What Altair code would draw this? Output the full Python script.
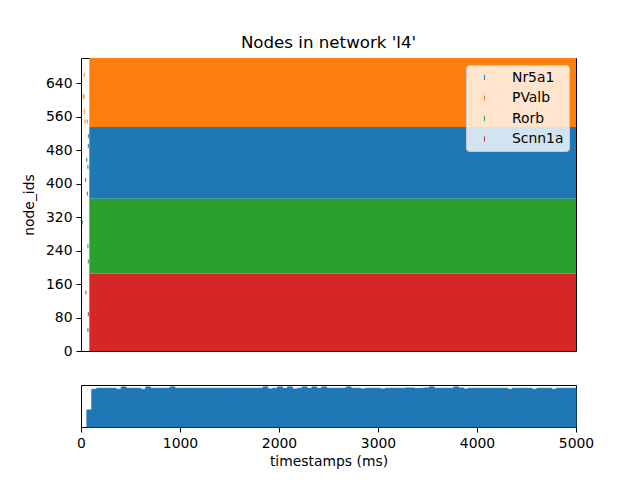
import altair as alt
import pandas as pd
import numpy as np

FONT = "DejaVu Sans"

# populations and their node-id ranges
populations = ["Nr5a1", "PValb", "Rorb", "Scnn1a"]
colors = ["#1f77b4", "#ff7f0e", "#2ca02c", "#d62728"]
node_lo = [364, 535, 185, 0]
node_hi = [535, 700, 364, 185]
band_start_ms = [84, 84, 84, 84]
band_end_ms = [5000, 5000, 5000, 5000]

# sparse early spikes (before the dense region)
early_pop = ["PValb", "PValb", "PValb", "PValb", "PValb", "PValb",
             "Nr5a1", "Nr5a1", "Nr5a1", "Nr5a1", "Nr5a1", "Nr5a1",
             "Rorb", "Rorb", "Rorb",
             "Scnn1a", "Scnn1a", "Scnn1a"]
early_t = [33, 23, 30, 33, 40, 64,
           74, 58, 47, 64, 74, 70,
           13, 74, 70,
           50, 74, 70]
early_node = [660, 608, 608, 572, 548, 548,
              513, 457, 409, 376, 490, 440,
              307, 214, 250,
              140, 88, 50]

# histogram of spike counts (100 bins)
hist_counts = [
    170, 377, 387, 387, 387, 387, 377, 400, 387, 387, 387, 377, 400, 387, 387, 387, 387, 400, 387, 387, 387, 387, 387, 387, 387,
    387, 387, 387, 387, 387, 387, 387, 387, 387, 387, 387, 400, 380, 387, 400, 385, 400, 380, 387, 400, 385, 400, 385, 400, 387,
    387, 387, 387, 400, 387, 387, 380, 387, 387, 387, 380, 387, 387, 387, 387, 390, 390, 385, 387, 390, 400, 387, 387, 387, 387,
    400, 390, 380, 387, 387, 387, 387, 387, 387, 387, 387, 377, 387, 387, 387, 387, 377, 387, 387, 387, 377, 387, 387, 387, 387,
]
hist_first_ms = 60
hist_last_ms = 5000

bands_df = pd.DataFrame({"population": populations, "lo": node_lo, "hi": node_hi,
                         "t0": band_start_ms, "t1": band_end_ms})
spk_df = pd.DataFrame({"population": early_pop, "t": early_t, "node": early_node})
edges = np.linspace(hist_first_ms, hist_last_ms, len(hist_counts) + 1)
hist_df = pd.DataFrame({"b0": edges[:-1], "b1": edges[1:], "count": hist_counts,
                        "zero": [0] * len(hist_counts)})

xs = alt.Scale(domain=[0, 5000], nice=False, zero=False)
ys = alt.Scale(domain=[0, 700], nice=False)
y_axis = alt.Axis(values=list(range(0, 641, 80)), title="node_ids",
                  labelOverlap=False, titlePadding=9)

bands = alt.Chart(bands_df).mark_rect().encode(
    x=alt.X("t0:Q", scale=xs, axis=None),
    x2="t1:Q",
    y=alt.Y("lo:Q", scale=ys, axis=y_axis),
    y2="hi:Q",
    fill=alt.Fill("population:N", scale=alt.Scale(domain=populations, range=colors),
                  legend=None),
)

spikes = alt.Chart(spk_df).mark_point(
    shape="M0,-1L0,1", filled=False, strokeWidth=1, size=16, opacity=1
).encode(
    x=alt.X("t:Q", scale=xs, axis=None),
    y=alt.Y("node:Q", scale=ys, axis=y_axis),
    color=alt.Color(
        "population:N", scale=alt.Scale(domain=populations, range=colors),
        legend=alt.Legend(
            title=None, orient="top-right", offset=7,
            fillColor="rgba(255,255,255,0.8)", strokeColor="#cccccc",
            cornerRadius=3, padding=5,
            symbolType="M0.85,-0.36L0.85,0.36", symbolSize=196,
            symbolStrokeWidth=1, symbolFillColor="transparent",
            labelFont=FONT, labelFontSize=13.9, labelColor="black",
            labelOffset=26, rowPadding=5.5,
        ),
    ),
)

main = alt.layer(bands, spikes).resolve_scale(color="independent").properties(
    width=495, height=293,
    title=alt.Title("Nodes in network 'l4'", font=FONT, fontSize=16.67,
                    fontWeight="normal", color="black", offset=6),
)

hist = alt.Chart(hist_df).mark_rect(
    color="#1f77b4", stroke="#1f77b4", strokeWidth=1
).encode(
    x=alt.X("b0:Q", scale=xs,
            axis=alt.Axis(values=[0, 1000, 2000, 3000, 4000, 5000],
                          format="d", title="timestamps (ms)",
                          labelFlush=False, titlePadding=5)),
    x2="b1:Q",
    y=alt.Y("count:Q", scale=alt.Scale(domain=[0, 1.05 * max(hist_counts)], nice=False),
            axis=None),
    y2="zero:Q",
).properties(width=495, height=42)

chart = alt.vconcat(main, hist, spacing=34, bounds="flush").properties(
    padding={"left": 21, "top": 34, "right": 10, "bottom": 10}
).configure_view(
    stroke="black", strokeWidth=1
).configure_axis(
    domain=False, grid=False, tickColor="black", tickSize=5, tickWidth=1,
    labelColor="black", labelFont=FONT, labelFontSize=13.9, labelPadding=4,
    labelOverlap=False, labelFlush=False,
    titleColor="black", titleFont=FONT, titleFontSize=13.9, titleFontWeight="normal",
)

chart.save("out.html", embed_options={"renderer": "svg", "actions": False})
